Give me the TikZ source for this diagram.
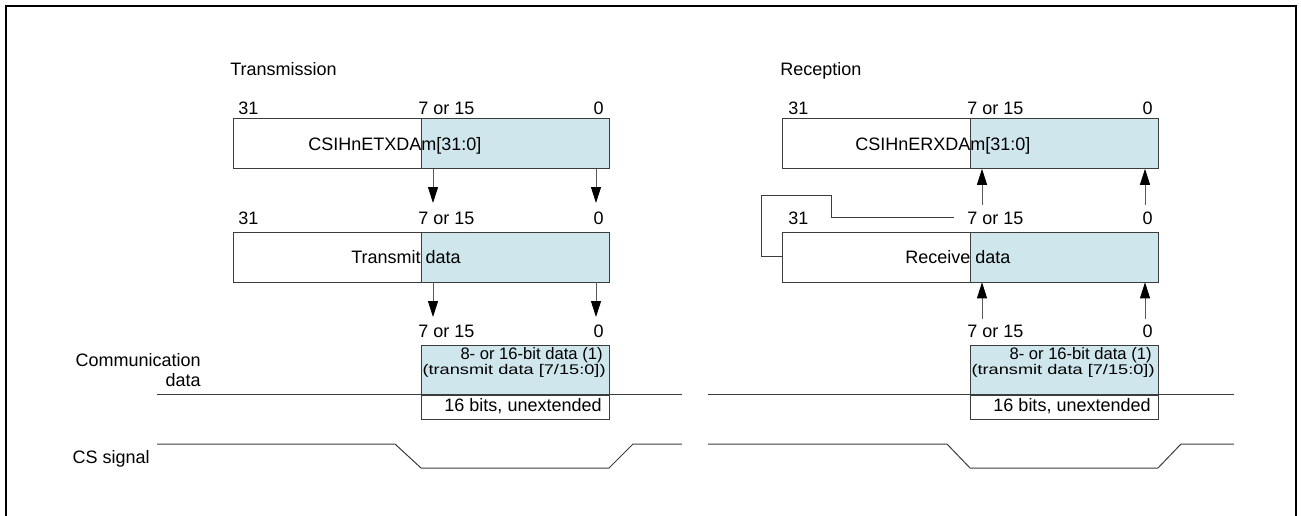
\documentclass[tikz,border=0pt]{standalone}
\usepackage{fontspec}
\setmainfont{Liberation Sans}
\newfontfamily\widefont{Liberation Sans}[FakeStretch=1.3]
\usetikzlibrary{
    arrows.meta,
    positioning,
    calc
}
\definecolor{regblue}{RGB}{207,230,236}
\definecolor{regline}{RGB}{60,60,60}

\begin{document}
\begin{tikzpicture}[
        x=0.5pt, y=-0.5pt,
        font=\fontsize{9}{10}\selectfont,
        bitlbl/.style={
            inner sep=0pt,
            anchor=base west
        },
        bitlblr/.style={
            inner sep=0pt,
            anchor=base east
        },
        reg/.style={
            draw=regline,
            fill=white,
            inner sep=0pt,
            anchor=north west,
            minimum width=188pt,
            minimum height=25pt
        },
        regpart/.style={
            reg,
            fill=regblue,
            anchor=north east,
            minimum width=94pt
        },
        comm/.style={
            reg,
            fill=regblue,
            minimum width=94pt,
            minimum height=24.5pt
        },
        bits/.style={
            reg,
            minimum width=94pt,
            minimum height=12pt
        },
        arrow/.style={
            -{Triangle[length=8pt,width=5pt,color=black]},
            draw=regline!85,
            line width=0.5pt
        },
        wire/.style={
            draw=regline,
            line width=0.5pt
        }
    ]

    \useasboundingbox (0,0) rectangle (1301,515);
    \draw[line width=1pt] (6,520) -- (6,6) -- (1296,6) -- (1296,520);

    % transmission
    \node[bitlbl] (txtitle) at (230,75) {Transmission};

    \node[bitlbl] (txhi1) at (238,114) {31};
    \node[bitlbl] (txmid1) at (418,114) {7 or 15};
    \node[bitlblr] (txlo1) at (604,114) {0};

    \node[reg] (txreg) at (233,118) {};
    \node[regpart] (txregp) at (txreg.north east) {};
    \node[bitlbl] (txregname) at (308,150) {CSIHnETXDAm[31:0]};

    \node[bitlbl] (txhi2) at (238,224) {31};
    \node[bitlbl] (txmid2) at (418,224) {7 or 15};
    \node[bitlblr] (txlo2) at (604,224) {0};

    \node[reg] (txdat) at (233,231.5) {};
    \node[regpart] (txdatp) at (txdat.north east) {};
    \node[bitlbl] (txdatname) at (351,263) {Transmit data};

    \node[bitlbl] (txmid3) at (418,337) {7 or 15};
    \node[bitlblr] (txlo3) at (604,337) {0};

    \node[comm] (txcomm) at (421,345) {};
    \node[bits] (txbits) at (txcomm.south west) {};
    \node[bitlblr, font=\fontsize{8.3}{10}\selectfont] (txcommname) at (603,359) {8- or 16-bit data (1)};
    \node[bitlblr, font=\widefont\fontsize{7}{8}\selectfont] (txcommsub) at (606,374) {(transmit data [7/15:0])};
    \node[bitlblr] (txbitsname) at (602,411) {16 bits, unextended};

    \coordinate (txa1) at (433,203);
    \coordinate (txb1) at (596,203);
    \coordinate (txa2) at (433,317);
    \coordinate (txb2) at (596,317);
    \draw[arrow] (txa1 |- txreg.south) -- (txa1);
    \draw[arrow] (txb1 |- txreg.south) -- (txb1);
    \draw[arrow] (txa2 |- txdat.south) -- (txa2);
    \draw[arrow] (txb2 |- txdat.south) -- (txb2);

    % reception
    \node[bitlbl] (rxtitle) at (780,75) {Reception};

    \node[bitlbl] (rxhi1) at (788,114) {31};
    \node[bitlbl] (rxmid1) at (967,114) {7 or 15};
    \node[bitlblr] (rxlo1) at (1153,114) {0};

    \node[reg] (rxreg) at (782,118) {};
    \node[regpart] (rxregp) at (rxreg.north east) {};
    \node[bitlbl] (rxregname) at (855,150) {CSIHnERXDAm[31:0]};

    \node[bitlbl] (rxhi2) at (788,224) {31};
    \node[bitlbl] (rxmid2) at (967,224) {7 or 15};
    \node[bitlblr] (rxlo2) at (1153,224) {0};

    \node[reg] (rxdat) at (782,231.5) {};
    \node[regpart] (rxdatp) at (rxdat.north east) {};
    \node[bitlbl] (rxdatname) at (905,263) {Receive data};

    \node[bitlbl] (rxmid3) at (967,337) {7 or 15};
    \node[bitlblr] (rxlo3) at (1153,337) {0};

    \node[comm] (rxcomm) at (970,345) {};
    \node[bits] (rxbits) at (rxcomm.south west) {};
    \node[bitlblr, font=\fontsize{8.3}{10}\selectfont] (rxcommname) at (1152,359) {8- or 16-bit data (1)};
    \node[bitlblr, font=\widefont\fontsize{7}{8}\selectfont] (rxcommsub) at (1155,374) {(transmit data [7/15:0])};
    \node[bitlblr] (rxbitsname) at (1151,411) {16 bits, unextended};

    \coordinate (rxa1) at (982,205);
    \coordinate (rxb1) at (1145,205);
    \coordinate (rxa2) at (982,319);
    \coordinate (rxb2) at (1145,319);
    \draw[arrow] (rxa1) -- (rxa1 |- rxreg.south);
    \draw[arrow] (rxb1) -- (rxb1 |- rxreg.south);
    \draw[arrow] (rxa2) -- (rxa2 |- rxdat.south);
    \draw[arrow] (rxb2) -- (rxb2 |- rxdat.south);

    \coordinate (rxloopin) at (831,195);
    \coordinate (rxloopout) at (761,195);
    \draw[wire, shorten <=6.5pt] (rxmid2.west) -- (rxmid2.west -| rxloopin)
        -- (rxloopin) -- (rxloopout) -- (rxloopout |- rxdat.west) -- (rxdat.west);

    % communication data and CS signal
    \node[bitlblr, anchor=north east, align=right, font=\fontsize{9}{10}\selectfont]
        (commlbl) at (201,353) {Communication\\data};
    \node[bitlblr] (cslbl) at (150,463) {CS signal};

    \draw[wire] (157,394) -- (682,394);
    \draw[wire] (708,394) -- (1234,394);

    \draw[wire] (157,444) -- (395,444) -- (421,468) -- (609,468) -- (633,444) -- (682,444);
    \draw[wire] (708,444) -- (947,444) -- (970,468) -- (1158,468) -- (1181,444) -- (1234,444);

\end{tikzpicture}
\end{document}
